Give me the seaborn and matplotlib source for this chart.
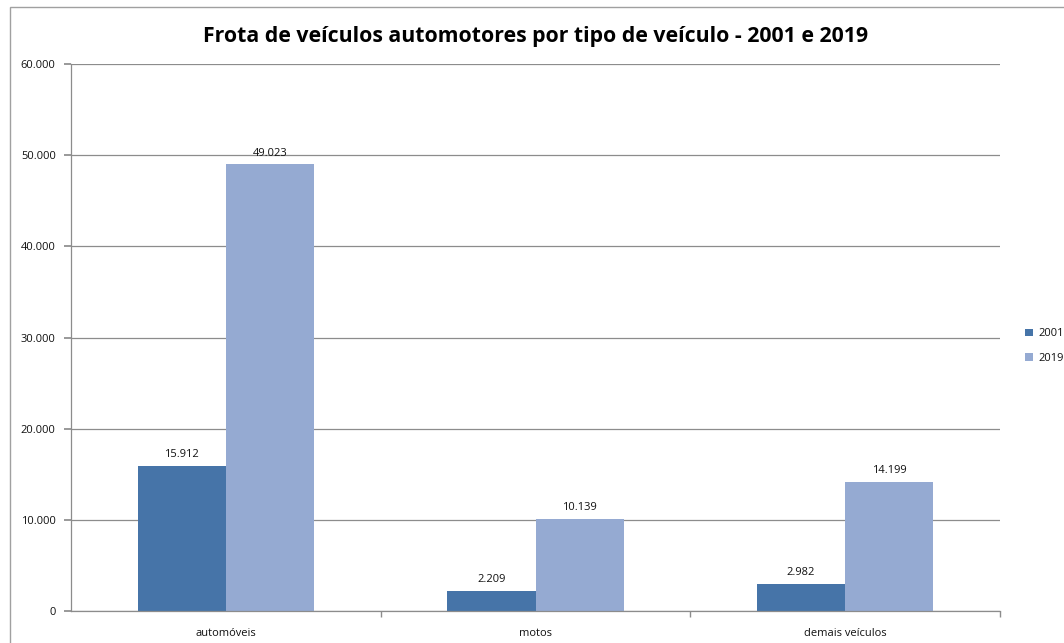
import matplotlib
matplotlib.use("Agg")
import matplotlib.pyplot as plt
import seaborn as sns
import pandas as pd
from matplotlib.patches import Rectangle
from matplotlib.ticker import FuncFormatter

categories = ["automóveis", "motos", "demais veículos"]
years = ["2001", "2019"]
values_2001 = [15912, 2209, 2982]
values_2019 = [49023, 10139, 14199]

df = pd.DataFrame({
    "categoria": categories * 2,
    "ano": [years[0]] * 3 + [years[1]] * 3,
    "valor": values_2001 + values_2019,
})

sns.set_theme(style="white")
plt.rcParams["font.family"] = ["Open Sans", "DejaVu Sans"]

fig = plt.figure(figsize=(10.64, 6.43), dpi=100)
ax = fig.add_axes([71/1064, 1-611/643, (1000-71)/1064, (611-64)/643])

def fmt(v):
    return f"{int(round(v)):,}".replace(",", ".")

palette = {"2001": "#4674A8", "2019": "#95AAD2"}
sns.barplot(data=df, x="categoria", y="valor", hue="ano", palette=palette,
            width=0.57, gap=0, ax=ax, legend=True, saturation=1, linewidth=0)

for c in ax.containers:
    ax.bar_label(c, labels=[fmt(v) for v in c.datavalues], padding=4, fontsize=8, color="#111111")

ax.set_ylim(0, 60000)
ax.set_xlim(-0.5, 2.5)
ax.set_yticks(range(0, 60001, 10000))
ax.yaxis.set_major_formatter(FuncFormatter(lambda v, p: fmt(v)))
ax.yaxis.grid(True, color="#8c8c8c", linewidth=0.9)
ax.set_axisbelow(True)
ax.set_xlabel("")
ax.set_ylabel("")
for s in ["top", "right"]:
    ax.spines[s].set_visible(False)
for s in ["left", "bottom"]:
    ax.spines[s].set_color("#8c8c8c")
    ax.spines[s].set_linewidth(0.9)
ax.tick_params(axis="y", which="major", left=True, length=5, color="#8c8c8c", labelsize=8, labelcolor="#111111", pad=6)
ax.tick_params(axis="x", which="major", bottom=False, labelsize=8, labelcolor="#111111", pad=6)
ax.set_xticks([0.5, 1.5, 2.5], minor=True)
ax.tick_params(axis="x", which="minor", bottom=True, length=4, color="#8c8c8c")

ax.set_title("Frota de veículos automotores por tipo de veículo - 2001 e 2019",
             fontsize=15.3, fontweight="bold", pad=16, color="black")

handles, labels = ax.get_legend_handles_labels()
ax.legend_.remove()
leg = fig.legend(handles, labels, loc="center left", bbox_to_anchor=(1015/1064, 1-346/643),
                 frameon=False, fontsize=8, handlelength=0.7, handleheight=0.7,
                 handletextpad=0.5, labelspacing=1.2)
for t in leg.get_texts():
    t.set_color("#111111")

fig.patches.append(Rectangle((10/1064, -0.05), 1.2, 1.05 - 7/643, transform=fig.transFigure,
                             fill=False, edgecolor="#a0a0a0", linewidth=1.0, figure=fig))

fig.savefig("out.png", dpi=100)
